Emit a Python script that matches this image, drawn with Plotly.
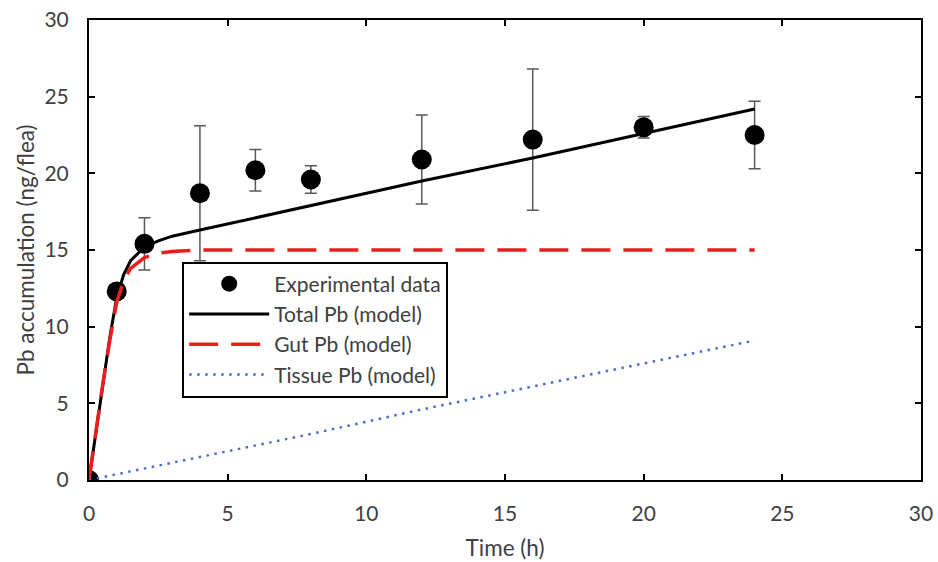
import plotly.graph_objects as go

# Experimental data
exp_time = [0, 1, 2, 4, 6, 8, 12, 16, 20, 24]
exp_pb = [0, 12.3, 15.4, 18.7, 20.2, 19.6, 20.9, 22.2, 23.0, 22.5]
exp_err = [0, 0, 1.7, 4.4, 1.35, 0.9, 2.9, 4.6, 0.7, 2.2]

# Model curves
model_time = [0, 0.25, 0.5, 0.75, 1, 1.25, 1.5, 2, 2.5, 3, 4, 6, 8, 12, 16, 20, 24]
total_pb = [0, 3.2, 6.4, 9.3, 11.9, 13.4, 14.3, 15.2, 15.6, 15.9, 16.3, 17.1, 17.9, 19.5, 21.0, 22.6, 24.2]
gut_pb = [0, 3.2, 6.3, 9.1, 11.6, 13.0, 13.8, 14.5, 14.8, 14.9, 15.0, 15.0, 15.0, 15.0, 15.0, 15.0, 15.0]
tissue_time = [0, 4, 8, 12, 16, 20, 24]
tissue_pb = [0, 1.5, 3.0, 4.6, 6.1, 7.6, 9.1]

x_ticks = [0, 5, 10, 15, 20, 25, 30]
y_ticks = [0, 5, 10, 15, 20, 25, 30]

FONT = "Lato"
TXT = "#404040"

fig = go.Figure()
fig.add_trace(go.Scatter(
    x=exp_time, y=exp_pb, mode="markers", name="Experimental data",
    marker=dict(color="black", size=20),
    error_y=dict(type="data", array=exp_err, visible=True, color="#595959", thickness=1.5, width=6),
))
fig.add_trace(go.Scatter(
    x=model_time, y=total_pb, mode="lines", name="Total Pb (model)",
    line=dict(color="black", width=3),
))
fig.add_trace(go.Scatter(
    x=model_time, y=gut_pb, mode="lines", name="Gut Pb (model)",
    line=dict(color="#ee1c1c", width=3.5, dash="29px,13px"),
))
fig.add_trace(go.Scatter(
    x=tissue_time, y=tissue_pb, mode="lines", name="Tissue Pb (model)",
    line=dict(color="#4a6fc4", width=2.5, dash="2.5px,5.5px"),
))

axis_common = dict(
    showline=True, linecolor="black", linewidth=2, mirror="ticks",
    ticks="inside", ticklen=6, tickwidth=2, tickcolor="black",
    showgrid=False, zeroline=False, automargin=False,
    ticklabeloverflow="allow",
    tickfont=dict(family=FONT, size=21, color=TXT),
)

fig.update_layout(
    width=938, height=562,
    margin=dict(l=89, r=17, t=20, b=82),
    paper_bgcolor="white", plot_bgcolor="white",
    font=dict(family=FONT, color=TXT),
    xaxis=dict(range=[0, 30], tickvals=x_ticks, ticklabelstandoff=14,
               title=dict(text="Time (h)", font=dict(family=FONT, size=22.5, color=TXT), standoff=16),
               **axis_common),
    yaxis=dict(range=[0, 30], tickvals=y_ticks, ticklabelstandoff=14,
               title=dict(text="Pb accumulation (ng/flea)", font=dict(family=FONT, size=22.5, color=TXT), standoff=4),
               **axis_common),
    legend=dict(
        x=0.112, y=0.475, xanchor="left", yanchor="top",
        bordercolor="black", borderwidth=2, bgcolor="white",
        font=dict(family=FONT, size=21, color=TXT),
        itemwidth=80, tracegroupgap=0,
    ),
)

# remove the default 8px page margin so the figure fills the window exactly
fig.write_html("out.html", config={"displayModeBar": False},
               post_script="document.body.style.margin='0';")
